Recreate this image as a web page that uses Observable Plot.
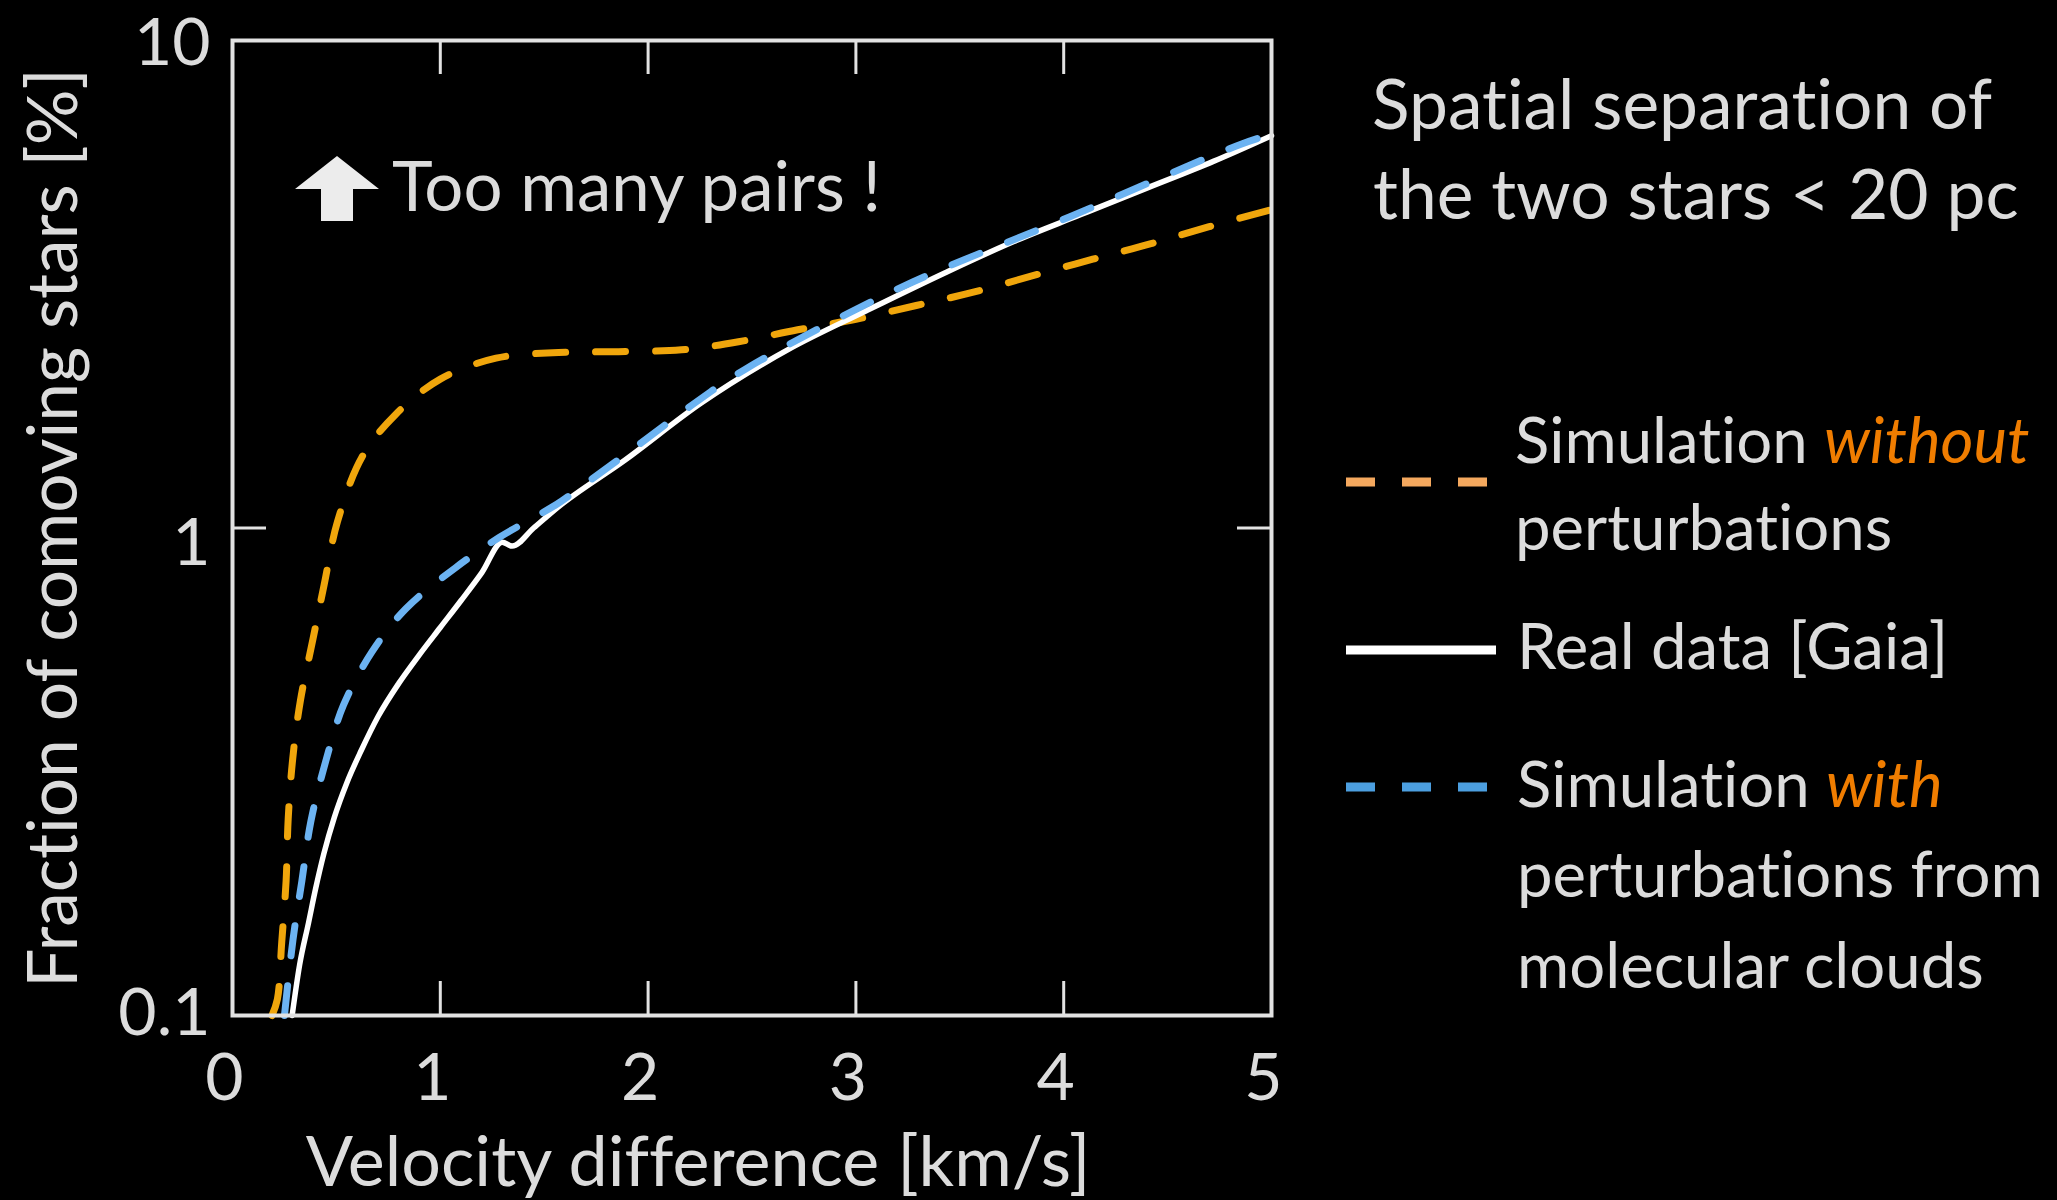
<!DOCTYPE html>
<html>
<head>
<meta charset="utf-8">
<script src="https://cdn.jsdelivr.net/npm/d3@7"></script>
<script src="https://cdn.jsdelivr.net/npm/@observablehq/plot@0.6"></script>
<style>
  html, body { margin: 0; padding: 0; background: #000; }
  #wrap { position: relative; width: 2057px; height: 1200px; background: #000; overflow: hidden;
          font-family: Lato, "Open Sans", sans-serif; color: #dcdcdc;
          font-variant-ligatures: none; font-feature-settings: "liga" 0, "clig" 0; }
  #wrap svg.plot { position: absolute; left: 0; top: 0; }
  .t { position: absolute; white-space: nowrap; line-height: 1; }
  .hl { color: #f07d00; font-style: italic; }
</style>
</head>
<body>
<div id="wrap"></div>
<script>
// ---- data ----
// Simulation without perturbations (orange, dashed)
const orangeX = [0.19, 0.216, 0.237, 0.258, 0.268, 0.29, 0.327, 0.387, 0.441, 0.505, 0.624, 0.785, 1.0, 1.268, 1.569, 1.858, 2.16, 2.435, 2.72, 3.0, 3.29, 3.57, 3.86, 4.14, 4.42, 4.70, 5.0];
const orangeY = [0.1, 0.108, 0.1415, 0.189, 0.253, 0.337, 0.443, 0.591, 0.765, 1.03, 1.40, 1.71, 2.02, 2.23, 2.29, 2.30, 2.32, 2.41, 2.55, 2.68, 2.86, 3.05, 3.30, 3.56, 3.83, 4.15, 4.5];
// Real data [Gaia] (white, solid)
const whiteX = [0.287, 0.323, 0.366, 0.40, 0.44, 0.49, 0.55, 0.62, 0.70, 0.80, 0.90, 1.0, 1.1, 1.2, 1.298, 1.346, 1.449, 1.5625, 1.891, 2.252, 2.68, 3.05, 3.43, 3.76, 4.08, 4.40, 4.72, 5.0];
const whiteY = [0.1, 0.127, 0.155, 0.182, 0.215, 0.255, 0.30, 0.35, 0.41, 0.48, 0.55, 0.625, 0.71, 0.81, 0.935, 0.918, 1.0, 1.10, 1.38, 1.80, 2.33, 2.79, 3.34, 3.87, 4.39, 4.98, 5.65, 6.38];
// Simulation with perturbations from molecular clouds (blue, dashed)
const blueX = [0.25, 0.291, 0.334, 0.377, 0.4475, 0.534, 0.671, 0.834, 1.075, 1.283, 1.449, 1.5625, 1.718, 1.944, 2.213, 2.47, 3.22, 4.03, 4.85, 5.0];
const blueY = [0.1, 0.143, 0.189, 0.25, 0.331, 0.433, 0.557, 0.683, 0.83, 0.956, 1.05, 1.12, 1.25, 1.47, 1.79, 2.12, 3.12, 4.35, 6.12, 6.42];

// axes
const xTicks = [0, 1, 2, 3, 4, 5];
const xInnerTicks = [1, 2, 3, 4];
const yInnerTicks = [1];
const yDomain = [0.1, 10];
const xDomain = [0, 5];

// texts
const xTitle = "Velocity difference [km/s]";
const yTitle = "Fraction of comoving stars [%]";
const noteText = "Too many pairs !";
const headerLines = ["Spatial separation of", "the two stars < 20 pc"];

// colours
const cOrange = "#f0a60c";
const cBlue = "#6cb3f2";
const cWhite = "#ffffff";
const cFrame = "#e2e2e2";
const cLegendOrange = "#f4a85e";
const cLegendBlue = "#4c9fe0";

const toRows = (xs, ys) => xs.map((x, i) => ({x, y: ys[i]}));
const orange = toRows(orangeX, orangeY);
const white = toRows(whiteX, whiteY);
const blue = toRows(blueX, blueY);

const W = 2057, H = 1200;
const mL = 232, mR = 786, mT = 40, mB = 185;
const innerW = W - mL - mR, innerH = H - mT - mB;
const tickLen = 34;
const fmt = d => String(d);
const tickFs = 66;

const chart = Plot.plot({
  width: W, height: H,
  marginLeft: mL, marginRight: mR, marginTop: mT, marginBottom: mB,
  style: {background: "#000", color: "#dcdcdc", fontFamily: "Lato, sans-serif"},
  x: {domain: xDomain},
  y: {type: "log", domain: yDomain},
  marks: [
    Plot.line(orange, {x: "x", y: "y", stroke: cOrange, strokeWidth: 7, strokeDasharray: "30,30", curve: "catmull-rom"}),
    Plot.line(white, {x: "x", y: "y", stroke: cWhite, strokeWidth: 5.5, curve: "monotone-x"}),
    Plot.line(blue, {x: "x", y: "y", stroke: cBlue, strokeWidth: 7, strokeDasharray: "30,30", curve: "catmull-rom"}),
    Plot.tickX(xInnerTicks, {x: d => d, stroke: cFrame, strokeWidth: 3, insetTop: innerH - tickLen}),
    Plot.tickX(xInnerTicks, {x: d => d, stroke: cFrame, strokeWidth: 3, insetBottom: innerH - tickLen}),
    Plot.tickY(yInnerTicks, {y: d => d, stroke: cFrame, strokeWidth: 3, insetRight: innerW - tickLen}),
    Plot.tickY(yInnerTicks, {y: d => d, stroke: cFrame, strokeWidth: 3, insetLeft: innerW - tickLen}),
    Plot.frame({stroke: cFrame, strokeWidth: 4}),
    Plot.axisX(xTicks, {tickSize: 0, tickPadding: 38, fontSize: tickFs, dx: -8, label: null, tickFormat: fmt}),
    Plot.axisY([10], {tickSize: 0, tickPadding: 22, fontSize: tickFs, dy: 3, label: null, tickFormat: fmt}),
    Plot.axisY([1], {tickSize: 0, tickPadding: 22, fontSize: tickFs, dy: 16, label: null, tickFormat: fmt}),
    Plot.axisY([0.1], {tickSize: 0, tickPadding: 22, fontSize: tickFs, dy: -2, label: null, tickFormat: fmt})
  ]
});
chart.classList.add("plot");

const wrap = document.getElementById("wrap");
wrap.appendChild(chart);

// ---- overlay texts / legend ----
const asc = 0.887; // Lato baseline position in a line-height:1 box (em)
function addText(html, left, baseline, fs, extra = "") {
  const d = document.createElement("div");
  d.className = "t";
  d.style.cssText = `left:${left}px;top:${baseline - asc * fs}px;font-size:${fs}px;${extra}`;
  d.innerHTML = html;
  wrap.appendChild(d);
  return d;
}

// x title (centered)
addText(xTitle, 698, 1186, 70, "transform:translateX(-50%);");
// y title (rotated)
const yt = document.createElement("div");
yt.className = "t";
yt.style.cssText = "left:51px;top:528px;font-size:69.5px;transform:translate(-50%,-50%) rotate(-90deg);";
yt.textContent = yTitle;
wrap.appendChild(yt);

// annotation arrow + text
const ns = "http://www.w3.org/2000/svg";
function svgBox(left, top, w, h, inner) {
  const s = document.createElementNS(ns, "svg");
  s.setAttribute("width", w); s.setAttribute("height", h);
  s.style.cssText = `position:absolute;left:${left}px;top:${top}px;overflow:visible`;
  s.innerHTML = inner;
  wrap.appendChild(s);
}
svgBox(295, 156, 85, 66, `<polygon points="42,0 84,33 58,33 58,65 26,65 26,33 0,33" fill="#ececec"/>`);
addText(noteText, 392, 211, 69);

// header text
addText(headerLines[0], 1372, 130, 69.5);
addText(headerLines[1], 1373, 220, 69.5);

// legend
svgBox(1346, 477, 143, 10, `<line x1="0" y1="5" x2="143" y2="5" stroke="${cLegendOrange}" stroke-width="9" stroke-dasharray="29,27"/>`);
svgBox(1346, 645, 150, 10, `<line x1="0" y1="5" x2="150" y2="5" stroke="#ffffff" stroke-width="9"/>`);
svgBox(1346, 782, 143, 10, `<line x1="0" y1="5" x2="143" y2="5" stroke="${cLegendBlue}" stroke-width="9" stroke-dasharray="29,27"/>`);

const legFs = 63.5;
addText(`Simulation <span class="hl">without</span>`, 1515, 463, legFs);
addText(`perturbations`, 1515, 550, legFs);
addText(`Real data [Gaia]`, 1517, 669, legFs);
addText(`Simulation <span class="hl">with</span>`, 1517, 807, legFs);
addText(`perturbations from`, 1517, 897, legFs);
addText(`molecular clouds`, 1517, 988, legFs);
</script>
</body>
</html>
